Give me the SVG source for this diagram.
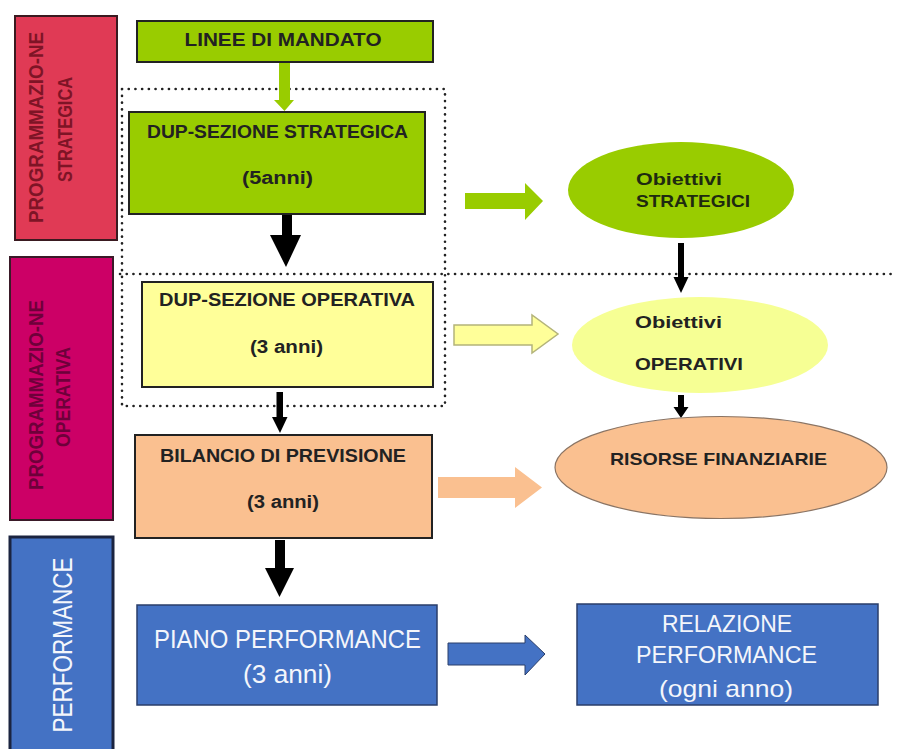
<svg xmlns="http://www.w3.org/2000/svg" width="897" height="749" viewBox="0 0 897 749">
<defs>
<style>
text{font-family:"Liberation Sans",Arial,sans-serif;}
.b{font-weight:bold;fill:#222;text-anchor:middle;}
.w{fill:#f4f6fb;text-anchor:middle;}
.rot{font-weight:bold;text-anchor:middle;font-size:20px;}
.box{stroke:#222;stroke-width:2;}
.green{fill:#99CC00;}
.yellow{fill:#FFFF99;}
.orange{fill:#FAC090;}
.blue{fill:#4472C4;}
.dot{fill:none;stroke:#222;stroke-width:2.6;stroke-dasharray:0.1 6.6;stroke-linecap:round;}
</style>
</defs>
<rect width="897" height="749" fill="#fff"/>

<g id="band-strategica">
<rect x="15" y="16" width="102" height="224" fill="#E03A55" stroke="#3a1a20" stroke-width="2"/>
<text class="rot" transform="translate(43,127.5) rotate(-90)" fill="#7E1426" textLength="191" lengthAdjust="spacingAndGlyphs">PROGRAMMAZIO-NE</text>
<text class="rot" transform="translate(72,129.5) rotate(-90)" fill="#7E1426" textLength="105" lengthAdjust="spacingAndGlyphs">STRATEGICA</text>
</g>

<g id="band-operativa">
<rect x="10" y="257" width="103" height="263" fill="#CC0066" stroke="#3a1a28" stroke-width="2"/>
<text class="rot" transform="translate(43,395) rotate(-90)" fill="#6E003A" textLength="190" lengthAdjust="spacingAndGlyphs">PROGRAMMAZIO-NE</text>
<text class="rot" transform="translate(70,397) rotate(-90)" fill="#6E003A" textLength="100" lengthAdjust="spacingAndGlyphs">OPERATIVA</text>
</g>

<g id="band-performance">
<rect x="10" y="537" width="103" height="220" fill="#4472C4" stroke="#1B2440" stroke-width="3"/>
<text transform="translate(72,645) rotate(-90)" font-size="27" fill="#f4f6fb" text-anchor="middle" textLength="175" lengthAdjust="spacingAndGlyphs">PERFORMANCE</text>
</g>

<g id="dotted-frame">
<rect class="dot" x="122" y="89" width="323" height="317"/>
<line class="dot" x1="120" y1="274" x2="897" y2="274"/>
</g>

<g id="connectors">
<path d="M279,62 H290 V100 H294 L284.5,111 L274,100 H279 Z" fill="#99CC00"/>
<path d="M282,214 H292 V235 H301 L286,267 L270,235 H282 Z" fill="#000"/>
<path d="M276.5,392 H283 V417 H287.5 L280,433 L272,417 H276.5 Z" fill="#000"/>
<path d="M275,540 H285 V568 H294 L279.5,597 L265,568 H275 Z" fill="#000"/>
<path d="M678,243 H684 V277 H688.5 L681,293 L673.5,277 H678 Z" fill="#000"/>
<path d="M678,395 H684 V407 H688.5 L681,418 L673.5,407 H678 Z" fill="#000"/>
<path d="M465,193 H525 V183 L543,201 L525,220 V209 H465 Z" fill="#99CC00"/>
<path d="M454,325 H532 V315 L558,334 L532,353 V345 H454 Z" fill="#FFFF99" stroke="#B4B47A" stroke-width="1.5"/>
<path d="M438,477 H515 V467 L542,487.5 L515,508 V498 H438 Z" fill="#FAC090"/>
<path d="M448,643 H525 V635 L545,654 L525,675 V665 H448 Z" fill="#4472C4" stroke="#2a3e6a" stroke-width="1"/>
</g>

<g id="linee-di-mandato">
<rect class="box green" x="137" y="21" width="296" height="41"/>
<text class="b" x="283" y="46" font-size="18" textLength="197" lengthAdjust="spacingAndGlyphs">LINEE DI MANDATO</text>
</g>

<g id="dup-strategica">
<rect class="box green" x="129" y="112" width="296" height="102"/>
<text class="b" x="277.5" y="138" font-size="18" textLength="261" lengthAdjust="spacingAndGlyphs">DUP-SEZIONE STRATEGICA</text>
<text class="b" x="277.5" y="184" font-size="18" textLength="71" lengthAdjust="spacingAndGlyphs">(5anni)</text>
</g>

<g id="dup-operativa">
<rect class="box yellow" x="142" y="282" width="291" height="105"/>
<text class="b" x="287" y="306" font-size="18" textLength="256" lengthAdjust="spacingAndGlyphs">DUP-SEZIONE OPERATIVA</text>
<text class="b" x="286.5" y="353" font-size="18" textLength="73" lengthAdjust="spacingAndGlyphs">(3 anni)</text>
</g>

<g id="bilancio">
<rect class="box orange" x="135" y="435" width="297" height="103"/>
<text class="b" x="283" y="462" font-size="18" fill="#2a1a10" textLength="246" lengthAdjust="spacingAndGlyphs">BILANCIO DI PREVISIONE</text>
<text class="b" x="283" y="508" font-size="18" textLength="72" lengthAdjust="spacingAndGlyphs">(3 anni)</text>
</g>

<g id="piano-performance">
<rect x="137" y="605" width="300" height="100" fill="#4472C4" stroke="#2a3e6a" stroke-width="1.5"/>
<text class="w" x="287.5" y="648" font-size="25" textLength="267" lengthAdjust="spacingAndGlyphs">PIANO PERFORMANCE</text>
<text class="w" x="287.5" y="683" font-size="25" textLength="89" lengthAdjust="spacingAndGlyphs">(3 anni)</text>
</g>

<g id="relazione-performance">
<rect x="577" y="604" width="301" height="101" fill="#4472C4" stroke="#2a3e6a" stroke-width="1.5"/>
<text class="w" x="727" y="632" font-size="24" textLength="130" lengthAdjust="spacingAndGlyphs">RELAZIONE</text>
<text class="w" x="726.5" y="663" font-size="24" textLength="181" lengthAdjust="spacingAndGlyphs">PERFORMANCE</text>
<text class="w" x="726" y="697" font-size="24" textLength="134" lengthAdjust="spacingAndGlyphs">(ogni anno)</text>
</g>

<g id="obiettivi-strategici">
<ellipse cx="681" cy="190" rx="113" ry="48" fill="#99CC00"/>
<text x="636" y="185" font-size="17" font-weight="bold" fill="#1e2a10" textLength="86" lengthAdjust="spacingAndGlyphs">Obiettivi</text>
<text x="636" y="207" font-size="17" font-weight="bold" fill="#1e2a10" textLength="114" lengthAdjust="spacingAndGlyphs">STRATEGICI</text>
</g>

<g id="obiettivi-operativi">
<ellipse cx="700" cy="345" rx="128" ry="48" fill="#F6FF94"/>
<text x="635" y="328" font-size="17" font-weight="bold" fill="#222" textLength="87" lengthAdjust="spacingAndGlyphs">Obiettivi</text>
<text x="635" y="370" font-size="17" font-weight="bold" fill="#222" textLength="108" lengthAdjust="spacingAndGlyphs">OPERATIVI</text>
</g>

<g id="risorse-finanziarie">
<ellipse cx="721" cy="467.5" rx="166" ry="51" fill="#FAC090" stroke="#8a7464" stroke-width="1.2"/>
<text class="b" x="718.5" y="465" font-size="17" fill="#2a1a10" textLength="217" lengthAdjust="spacingAndGlyphs">RISORSE FINANZIARIE</text>
</g>
</svg>
